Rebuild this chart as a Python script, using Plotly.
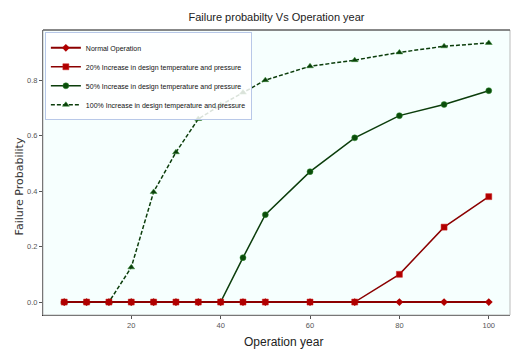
import plotly.graph_objects as go

years = [5, 10, 15, 20, 25, 30, 35, 40, 45, 50, 60, 70, 80, 90, 100]
normal = [0, 0, 0, 0, 0, 0, 0, 0, 0, 0, 0, 0, 0, 0, 0]
inc20 = [0, 0, 0, 0, 0, 0, 0, 0, 0, 0, 0, 0, 0.10, 0.27, 0.38]
inc50 = [0, 0, 0, 0, 0, 0, 0, 0, 0.16, 0.315, 0.47, 0.592, 0.672, 0.712, 0.762]
inc100 = [0, 0, 0, 0.125, 0.397, 0.54, 0.66, 0.71, 0.755, 0.80, 0.85, 0.872, 0.90, 0.922, 0.934]
names = ["Normal Operation",
         "20% Increase in design temperature and pressure",
         "50% Increase in design temperature and pressure",
         "100% Increase in design temperature and pressure"]
xticks = [20, 40, 60, 80, 100]
yticks = [0.0, 0.2, 0.4, 0.6, 0.8]

FONT = "Liberation Sans, Arial, sans-serif"

fig = go.Figure()
fig.add_trace(go.Scatter(x=years, y=inc100, name=names[3], mode="lines+markers",
                         line=dict(color="#0b3d0b", width=1.5, dash="4px,2px"),
                         marker=dict(symbol="triangle-up", size=6, color="#0b3d0b",
                                     line=dict(color="#2e8b2e", width=0.5))))
fig.add_trace(go.Scatter(x=years, y=inc50, name=names[2], mode="lines+markers",
                         line=dict(color="#0b3d0b", width=1.5),
                         marker=dict(symbol="circle", size=6, color="#0b4d0b",
                                     line=dict(color="#2e8b2e", width=0.5))))
fig.add_trace(go.Scatter(x=years, y=inc20, name=names[1], mode="lines+markers",
                         line=dict(color="#8b0000", width=1.5),
                         marker=dict(symbol="square", size=6, color="#b00000",
                                     line=dict(color="#d02020", width=0.5))))
fig.add_trace(go.Scatter(x=years, y=normal, name=names[0], mode="lines+markers",
                         line=dict(color="#8b0000", width=2),
                         marker=dict(symbol="diamond", size=6, color="#b00000")))

fig.update_layout(
    width=512, height=351,
    margin=dict(l=43, r=2, t=30, b=36, autoexpand=False),
    paper_bgcolor="white",
    plot_bgcolor="#f6fffe",
    title=dict(text="Failure probabilty Vs Operation year", x=0.54, xanchor="center",
               y=0.951, yanchor="middle",
               font=dict(family=FONT, size=11, color="#222")),
    showlegend=True,
    legend=dict(x=0.004, y=0.992, xanchor="left", yanchor="top", traceorder="reversed",
                bgcolor="rgba(255,255,255,0.85)", bordercolor="#b8c8e8", borderwidth=1,
                font=dict(family=FONT, size=7, color="#111"),
                itemwidth=30, tracegroupgap=0),
    xaxis=dict(range=[0.25, 104.75], tickvals=xticks, ticks="outside", ticklen=3,
               tickcolor="#555", showgrid=False, zeroline=False, automargin=False,
               showline=True, linecolor="#333", linewidth=1, mirror=False,
               tickfont=dict(family=FONT, size=7.5, color="#555")),
    yaxis=dict(range=[-0.0467, 0.9807], tickvals=yticks, tickformat=".1f",
               ticks="outside", ticklen=3, tickcolor="#555", automargin=False,
               showgrid=False, zeroline=False,
               showline=True, linecolor="#333", linewidth=1,
               tickfont=dict(family=FONT, size=7.5, color="#555")),
)
fig.add_annotation(text="Operation year", xref="paper", yref="paper", x=0.515, y=-0.095,
                   xanchor="center", yanchor="middle", showarrow=False,
                   font=dict(family=FONT, size=12, color="#222"))
fig.add_annotation(text="Failure Probability", xref="paper", yref="paper", x=-0.05, y=0.45,
                   xanchor="center", yanchor="middle", showarrow=False, textangle=-90,
                   font=dict(family="DejaVu Sans, sans-serif", size=11, color="#333"))
fig.add_shape(type="rect", xref="paper", yref="paper", x0=0, y0=0, x1=1, y1=1,
              line=dict(color="#bbbbbb", width=1), layer="above")
fig.add_shape(type="line", xref="paper", yref="paper", x0=0, y0=1, x1=1, y1=1,
              line=dict(color="#333", width=1), layer="above")

fig.write_html("out.html", config={"displayModeBar": False},
               post_script="document.body.style.margin='0';document.body.style.padding='0';")
